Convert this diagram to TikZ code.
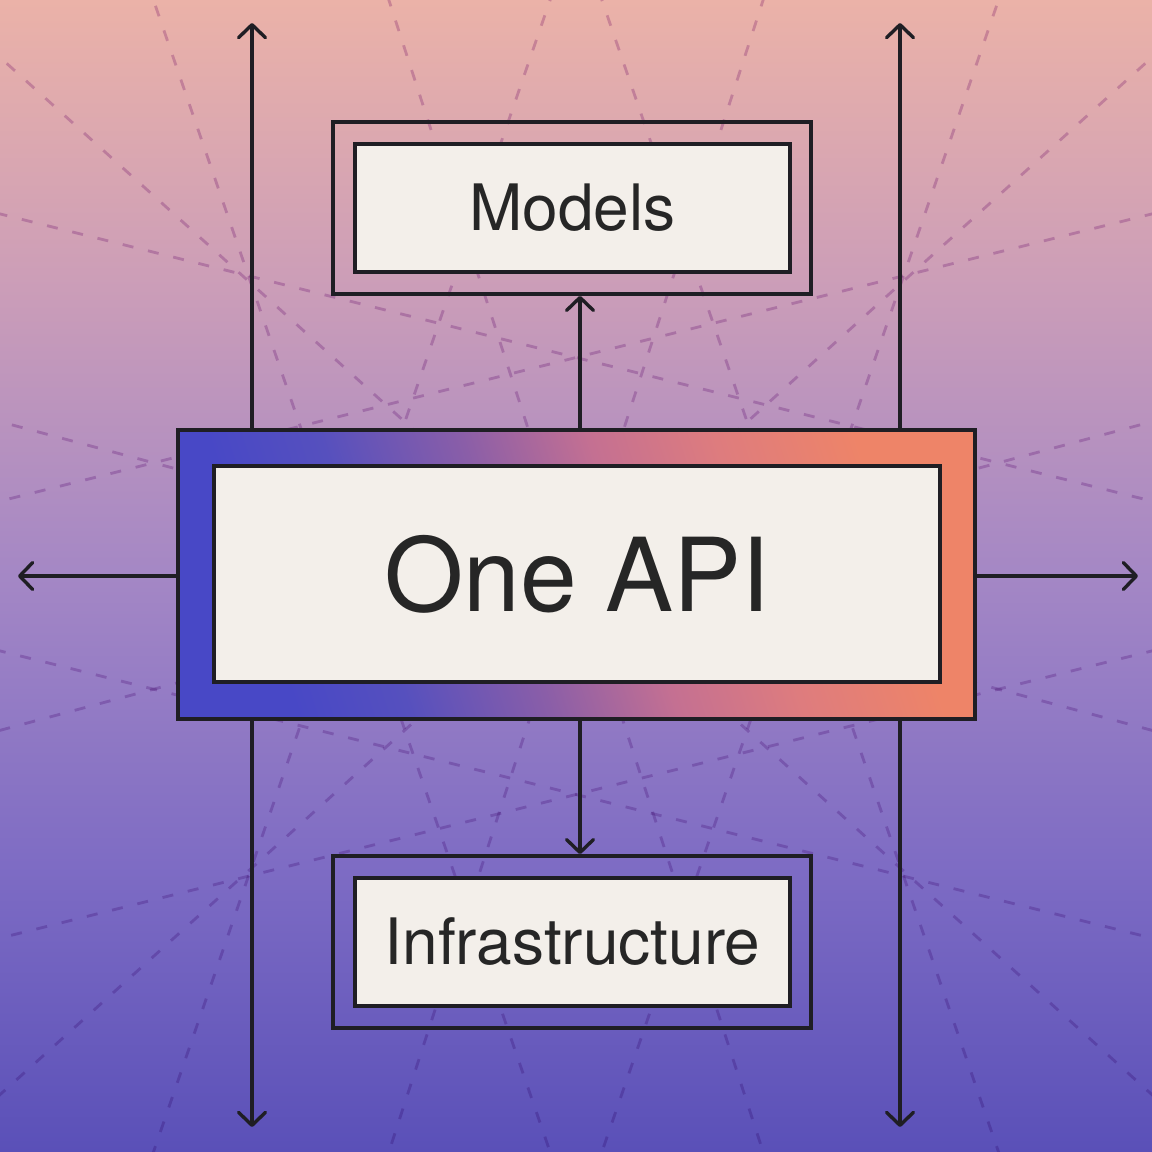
\documentclass[tikz,border=0pt]{standalone}
\usepackage{fontspec}
\setmainfont{TeX Gyre Heros}
\usetikzlibrary{arrows.meta,calc}
\definecolor{bgA}{HTML}{5A50B8}
\definecolor{bgB}{HTML}{7E6CC4}
\definecolor{bgC}{HTML}{A487C5}
\definecolor{bgD}{HTML}{CB9DB8}
\definecolor{bgE}{HTML}{EBB2A8}
\definecolor{frA}{HTML}{4848C6}
\definecolor{frB}{HTML}{5650BE}
\definecolor{frC}{HTML}{8A5EA8}
\definecolor{frD}{HTML}{C47092}
\definecolor{frE}{HTML}{DE7C7E}
\definecolor{frF}{HTML}{EE8468}
\definecolor{ink}{HTML}{1F1E24}
\definecolor{txt}{HTML}{262626}
\definecolor{paper}{HTML}{F3EFEA}
\definecolor{dashc}{HTML}{DCBEE2}
\pgfdeclareverticalshading{bgshade}{100bp}{color(0bp)=(bgA); color(25bp)=(bgA); color(37.5bp)=(bgB); color(50bp)=(bgC); color(62.5bp)=(bgD); color(75bp)=(bgE); color(100bp)=(bgE)}
\pgfdeclarehorizontalshading{frameshade}{100bp}{color(0bp)=(frA); color(27bp)=(frA); color(35bp)=(frB); color(45bp)=(frC); color(54bp)=(frD); color(63bp)=(frE); color(73bp)=(frF); color(100bp)=(frF)}
\tikzset{
  conn/.style={draw=ink, line width=3.4pt, line cap=round},
  arr/.style={conn, -{Straight Barb[length=13pt,width=27pt,line width=3.4pt,round]}},
  outerbox/.style={draw=ink, line width=3.6pt, inner sep=0pt, fill=none},
  innerbox/.style={draw=ink, line width=3.6pt, fill=paper, inner sep=0pt, text=txt},
  framebox/.style={draw=ink, line width=3.6pt, inner sep=0pt, shading=frameshade, shading angle=18},
  bgdash/.style={draw=dashc, line width=2.8pt, dash pattern=on 11pt off 15pt, blend mode=multiply},
}
\begin{document}
\begin{tikzpicture}[x=1pt,y=-1pt]
\useasboundingbox (0,0) rectangle (1152,1152);
\fill[shading=bgshade] (0,0) rectangle (1152,1152);
% background dashed lines
\begin{scope}
\clip (0,0) rectangle (1152,1152);
\coordinate (c) at (576,576);
\foreach \a in {15,42,72,108,138,165}{
  \draw[bgdash] ($(c)+(\a:-1000)$) -- ($(c)+(\a:1000)$);
}
\foreach \a in {14,166,71,109}{
  \foreach \d in {212,-212}{
    \pgfmathsetmacro{\n}{\a+90}
    \draw[bgdash] ($(c)+(\n:\d)+(\a:-1300)$) -- ($(c)+(\n:\d)+(\a:1300)$);
  }
}
\end{scope}
% free ends
\coordinate (tl) at (252,23);
\coordinate (bl) at (252,1127);
\coordinate (tr) at (900,23);
\coordinate (br) at (900,1127);
\coordinate (le) at (18,576);
\coordinate (re) at (1138,576);
\coordinate (mx) at (580,576);
% main box
\node[framebox, minimum width=797pt, minimum height=289pt] (mainouter) at (576.5,574.5) {};
\node[innerbox, minimum width=726pt, minimum height=216pt, font=\fontsize{102}{110}\selectfont] (main) at (577,574) {One API};
% models
\node[outerbox, minimum width=478pt, minimum height=172pt] (modelsouter) at (572,208) {};
\node[innerbox, minimum width=435pt, minimum height=128pt, font=\fontsize{64}{70}\selectfont] (models) at (572.5,208) {Models};
% infrastructure
\node[outerbox, minimum width=478pt, minimum height=172pt] (infraouter) at (572,942) {};
\node[innerbox, minimum width=435pt, minimum height=128pt, font=\fontsize{64}{70}\selectfont] (infra) at (572.5,942) {Infrastructure};
% connectors
\draw[arr] (mainouter.north -| tl) -- (tl);
\draw[arr] (mainouter.south -| bl) -- (bl);
\draw[arr] (mainouter.north -| tr) -- (tr);
\draw[arr] (mainouter.south -| br) -- (br);
\draw[arr] (mainouter.west |- le) -- (le);
\draw[arr] (mainouter.east |- re) -- (re);
\draw[arr] (mainouter.north -| mx) -- (modelsouter.south -| mx);
\draw[arr] (mainouter.south -| mx) -- (infraouter.north -| mx);
\end{tikzpicture}
\end{document}
